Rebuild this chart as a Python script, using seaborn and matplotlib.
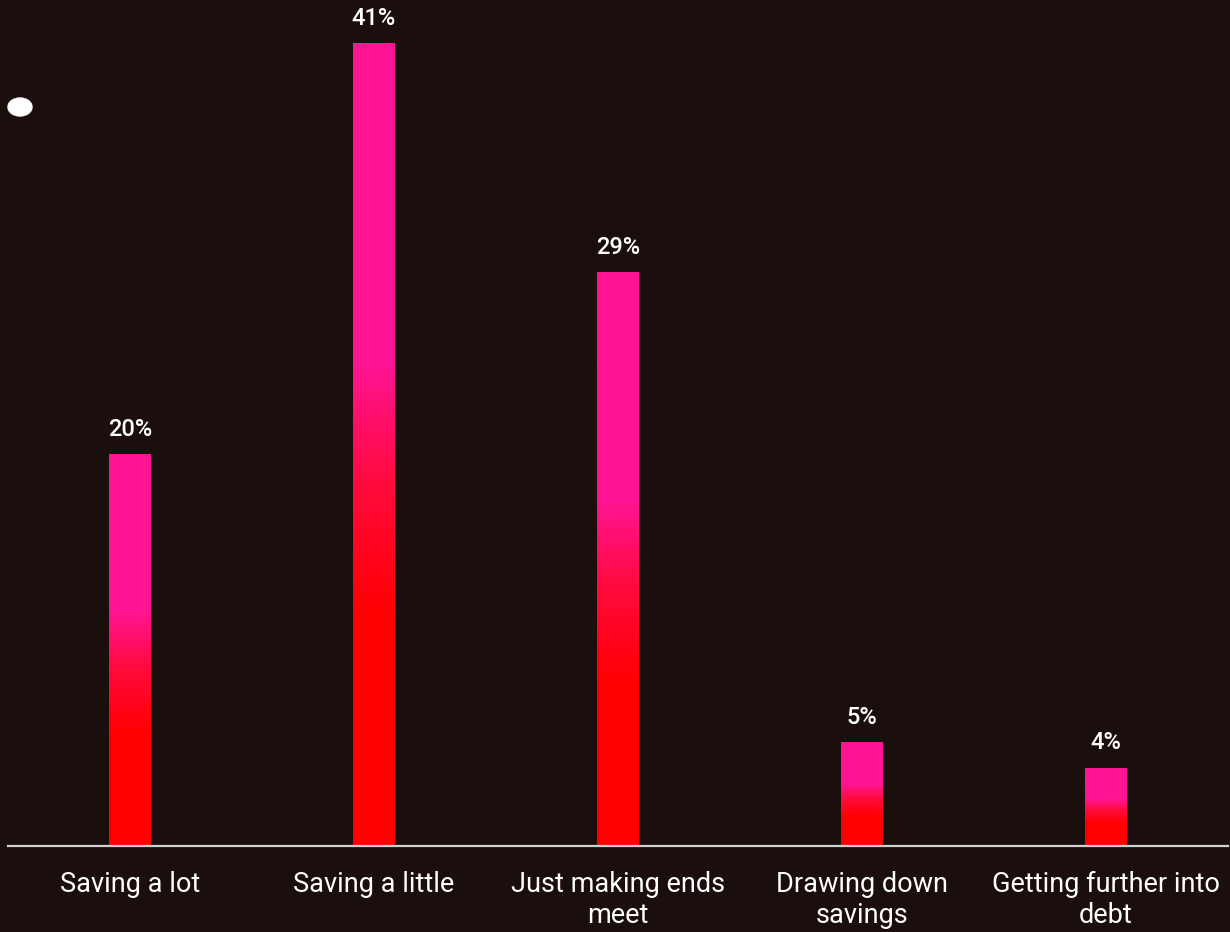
import numpy as np
import pandas as pd
import seaborn as sns
import matplotlib.pyplot as plt
from matplotlib.colors import LinearSegmentedColormap
from matplotlib.patches import Ellipse

categories = ['Saving a lot', 'Saving a little', 'Just making ends\nmeet',
              'Drawing down\nsavings', 'Getting further into\ndebt']
values = [20.0, 41.0, 29.3, 5.3, 4.0]
labels = ['20%', '41%', '29%', '5%', '4%']

bg = '#1b0f0e'
sns.set_theme(style='white')
plt.rcParams['font.family'] = ['Roboto', 'DejaVu Sans']

df = pd.DataFrame({'category': categories, 'value': values})

fig = plt.figure(figsize=(12.3, 9.32), dpi=100, facecolor=bg)
ax = fig.add_axes([0.0065, 0.0923, 0.9915, 0.9077])
ax.set_facecolor(bg)

sns.barplot(data=df, x='category', y='value', width=0.17, color='#ff1493', ax=ax)

# vertical gradient inside each bar: red at the bottom, pink at the top
cmap = LinearSegmentedColormap.from_list(
    'rp', [(0, '#ff0000'), (0.28, '#ff0000'), (0.45, '#ff0a3c'), (0.6, '#ff1493'), (1, '#ff1493')])
grad = np.linspace(0, 1, 256).reshape(-1, 1)
for p, lab in zip(ax.patches, labels):
    x0, y0 = p.get_x(), p.get_y()
    w, h = p.get_width(), p.get_height()
    im = ax.imshow(grad, cmap=cmap, origin='lower', aspect='auto',
                   extent=[x0, x0 + w, y0, y0 + h], zorder=2)
    im.set_clip_path(p)
    p.set_facecolor('none')
    p.set_edgecolor('none')
    ax.text(x0 + w / 2, y0 + h + 0.93, lab, ha='center', va='baseline',
            color='white', fontsize=17, fontweight='medium')

ax.set_xlim(-0.5, 4.5)
ax.set_ylim(0, 43.2)
ax.set_xlabel('')
ax.set_ylabel('')
ax.set_yticks([])
for s in ['top', 'right', 'left']:
    ax.spines[s].set_visible(False)
ax.spines['bottom'].set_color('#d0d0d0')
ax.spines['bottom'].set_linewidth(1.6)
ax.tick_params(axis='x', length=0, pad=18, labelsize=19.5, labelcolor='white')
for t in ax.get_xticklabels():
    t.set_linespacing(1.18)

# small white dot top-left
fig.add_artist(Ellipse((0.01626, 0.8852), 0.0195, 0.0193, color='white'))

fig.savefig('out.png', dpi=100, facecolor=bg)
